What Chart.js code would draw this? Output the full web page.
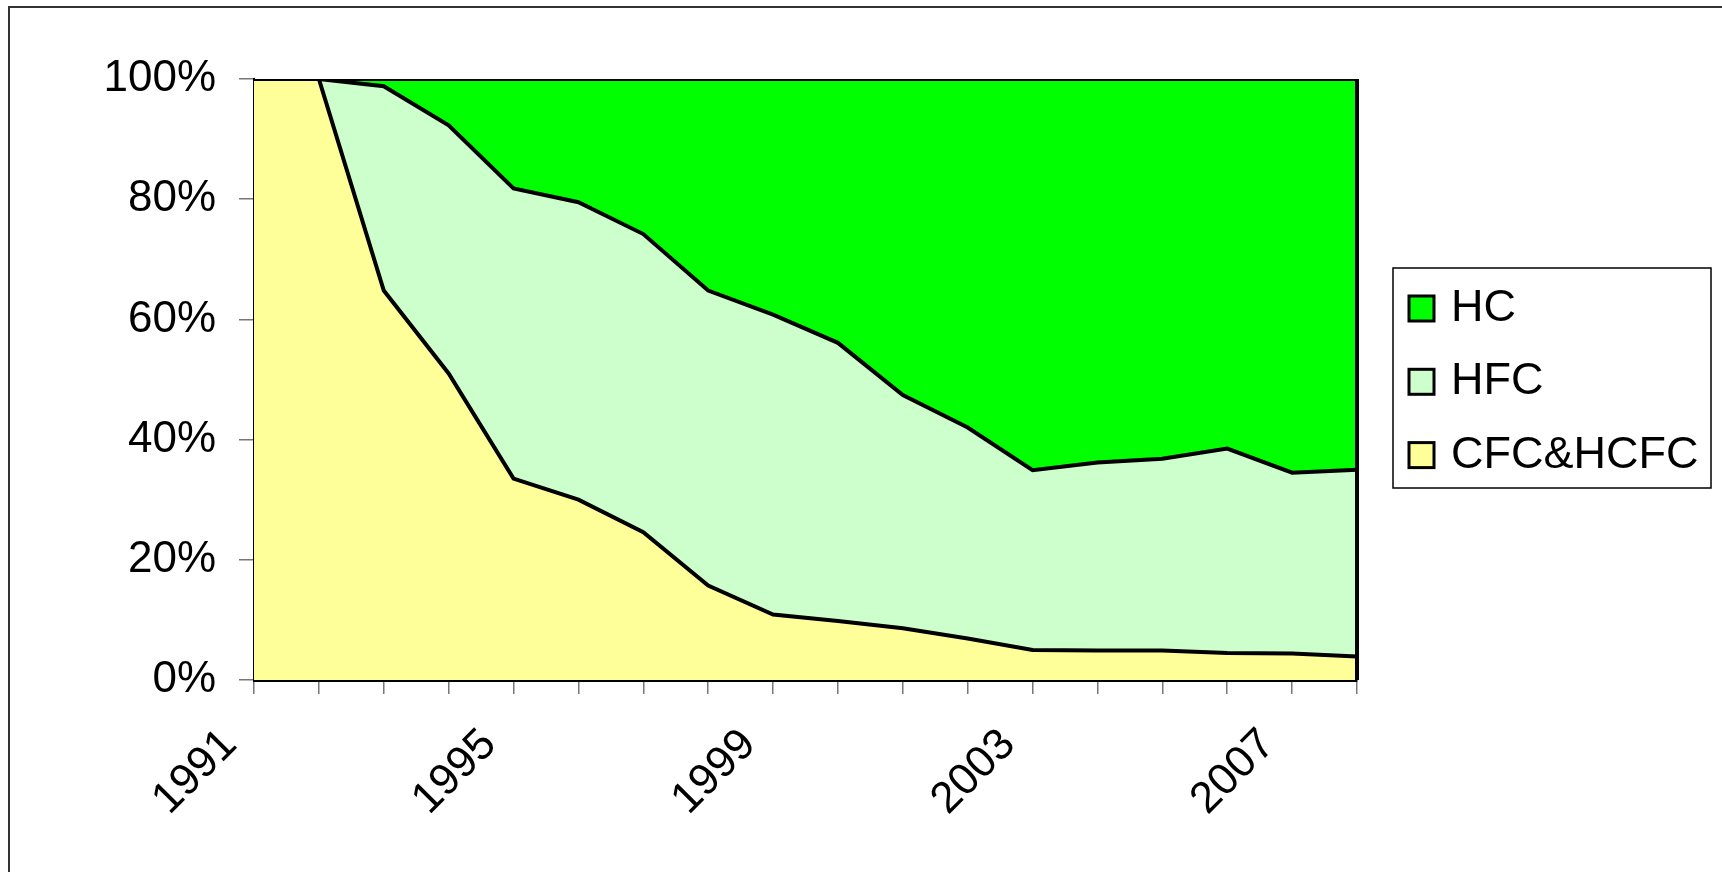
<!DOCTYPE html>
<html>
<head>
<meta charset="utf-8">
<script src="https://cdn.jsdelivr.net/npm/chart.js@4.4.0/dist/chart.umd.min.js"></script>
<style>
  html, body { margin: 0; padding: 0; background: #fff; }
  canvas { display: block; }
</style>
</head>
<body>
<canvas id="chart" width="1722" height="872"></canvas>
<script>
/* DATA (percent shares) */
const years      = ['1991','1992','1993','1994','1995','1996','1997','1998','1999','2000','2001','2002','2003','2004','2005','2006','2007','2008'];
const shownYears = ['1991','1995','1999','2003','2007'];
const cfcHcfc    = [100, 100, 64.8, 51.0, 33.5, 30.0, 24.6, 15.7, 10.9, 9.8, 8.6, 6.9, 5.0, 4.9, 4.9, 4.5, 4.4, 3.9];
const hfc        = [0, 0, 34.0, 41.3, 48.3, 49.5, 49.6, 49.1, 49.9, 46.3, 38.8, 35.1, 29.9, 31.3, 31.9, 34.0, 30.1, 31.1];
const hc         = [0, 0, 1.2, 7.7, 18.2, 20.5, 25.8, 35.2, 39.2, 43.9, 52.6, 58.0, 65.1, 63.8, 63.2, 61.5, 65.5, 65.0];
const yTicks     = [0, 20, 40, 60, 80, 100];

const FONT = '"Liberation Sans", Arial, sans-serif';
Chart.defaults.font.family = FONT;
Chart.defaults.font.size = 44;
Chart.defaults.color = '#000';

/* FRAME, RIGHT EDGE AND LEGEND */
const decorPlugin = {
  id: 'decor',
  afterDraw(chart) {
    const ctx = chart.ctx;
    const area = chart.chartArea;
    ctx.save();
    // outer frame (top and left only)
    ctx.strokeStyle = '#333';
    ctx.lineWidth = 2;
    ctx.beginPath();
    ctx.moveTo(9, 872);
    ctx.lineTo(9, 7);
    ctx.lineTo(1722, 7);
    ctx.stroke();
    // right edge of the area
    ctx.strokeStyle = '#000';
    ctx.lineWidth = 4;
    ctx.beginPath();
    ctx.moveTo(area.right, area.top);
    ctx.lineTo(area.right, area.bottom);
    ctx.stroke();
    // legend
    ctx.lineWidth = 1.5;
    ctx.strokeStyle = '#000';
    ctx.strokeRect(1393, 268, 318, 220);
    const sets = chart.data.datasets.slice().reverse();
    ctx.font = '45px ' + FONT;
    ctx.textBaseline = 'alphabetic';
    ctx.textAlign = 'left';
    sets.forEach(function (ds, i) {
      const y = 296 + i * 73.3;
      ctx.fillStyle = ds.backgroundColor;
      ctx.fillRect(1409, y, 25, 25);
      ctx.lineWidth = 3;
      ctx.strokeRect(1409, y, 25, 25);
      ctx.fillStyle = '#000';
      ctx.fillText(ds.label, 1451, y + 25);
    });
    ctx.restore();
  }
};

function area(label, data, color, fill) {
  return {
    label: label,
    data: data,
    backgroundColor: color,
    borderColor: '#000',
    borderWidth: 4,
    fill: fill,
    pointRadius: 0,
    tension: 0
  };
}

new Chart(document.getElementById('chart'), {
  type: 'line',
  data: {
    labels: years,
    datasets: [
      area('CFC&HCFC', cfcHcfc, '#FFFF99', 'origin'),
      area('HFC', hfc, '#CCFFCC', '-1'),
      area('HC', hc, '#00FF00', '-1')
    ]
  },
  options: {
    responsive: false,
    animation: false,
    devicePixelRatio: 1,
    layout: { padding: { top: 79, right: 365, left: 0, bottom: 0 } },
    plugins: {
      legend: { display: false },
      tooltip: { enabled: false }
    },
    scales: {
      x: {
        offset: false,
        grid: { offset: false, drawOnChartArea: false, drawTicks: true, tickLength: 14, color: '#777', lineWidth: 1.5 },
        border: { display: true, color: '#000', width: 3 },
        ticks: {
          autoSkip: false,
          minRotation: 45,
          maxRotation: 45,
          padding: 25,
          labelOffset: -24,
          callback: function (v, i) {
            return shownYears.indexOf(years[i]) >= 0 ? years[i] : '';
          }
        },
        afterFit: function (scale) { scale.height = 192; }
      },
      y: {
        stacked: true,
        min: 0,
        max: 100,
        afterBuildTicks: function (scale) {
          scale.ticks = yTicks.map(function (v) { return { value: v }; });
        },
        grid: { drawOnChartArea: false, drawTicks: true, tickLength: 15, color: '#777', lineWidth: 1.5 },
        border: { display: true, color: '#000', width: 2 },
        ticks: {
          padding: 23,
          callback: function (v) { return v + '%'; }
        },
        afterFit: function (scale) { scale.width = 254; }
      }
    }
  },
  plugins: [decorPlugin]
});
</script>
</body>
</html>
